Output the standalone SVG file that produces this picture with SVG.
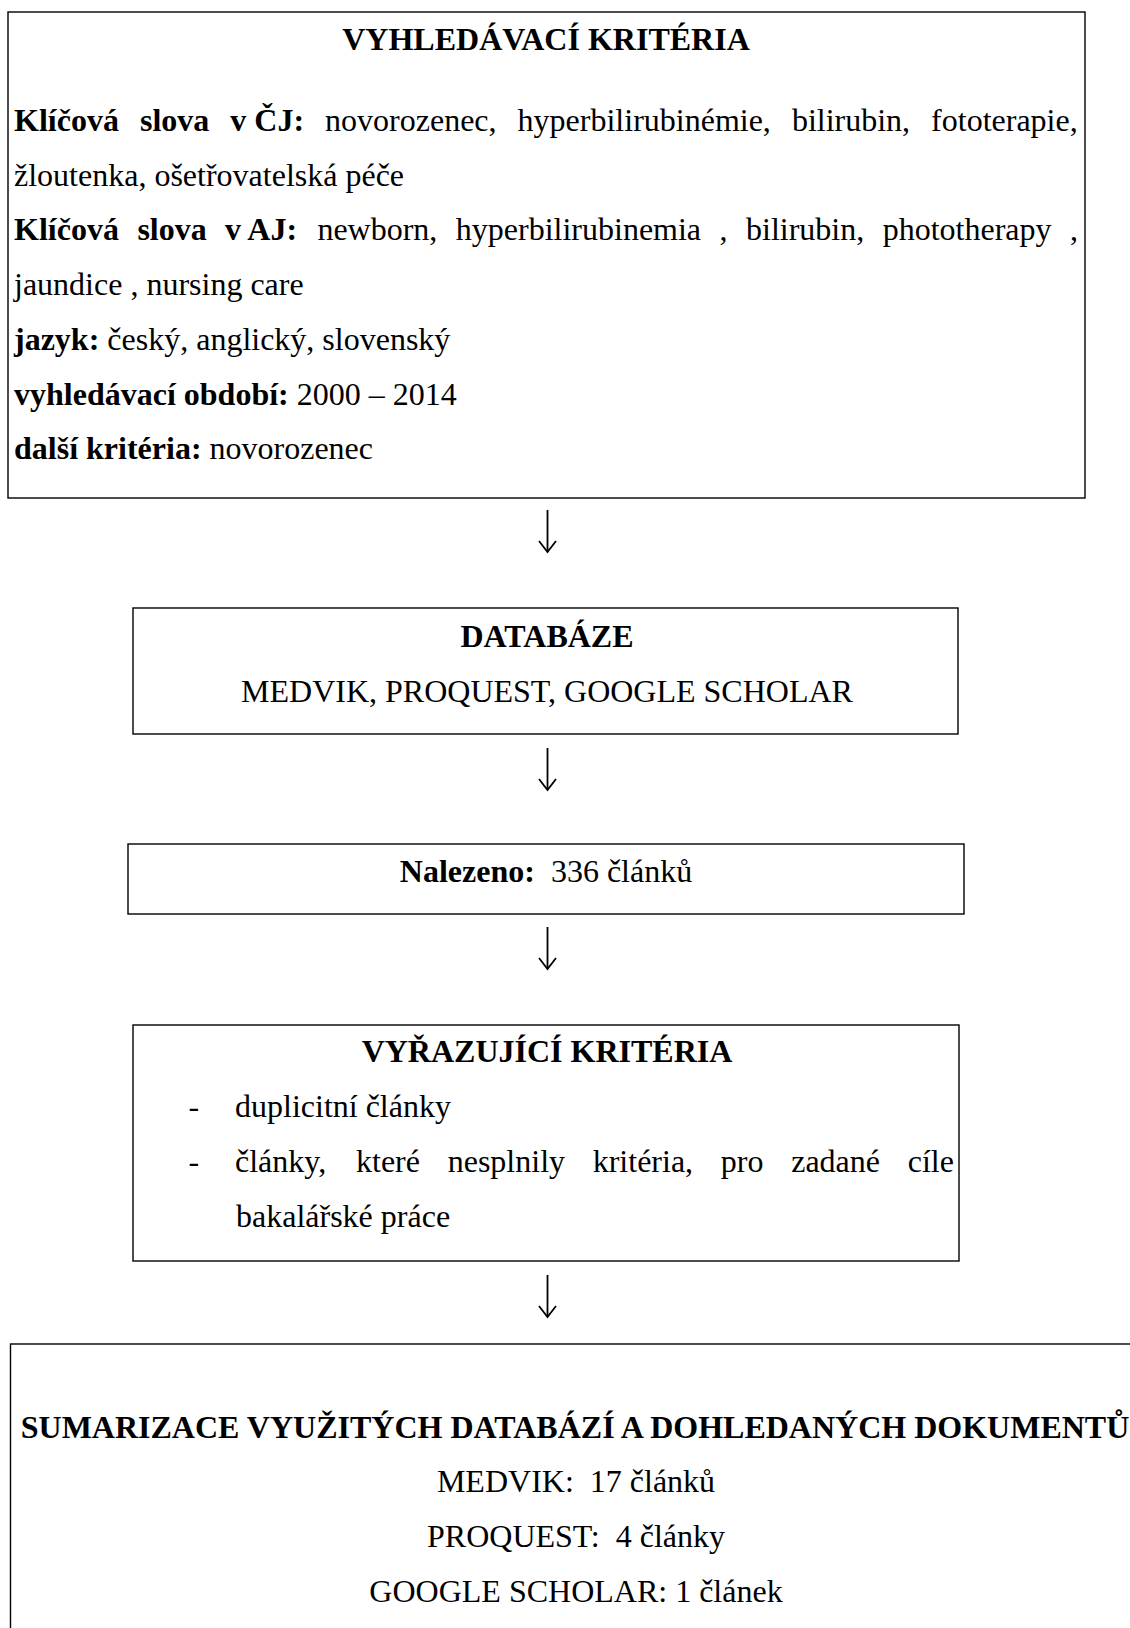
<svg xmlns="http://www.w3.org/2000/svg" xmlns:xlink="http://www.w3.org/1999/xlink" width="1130" height="1628" viewBox="0 0 1130 1628">
<style>
  text { font-family: "Liberation Serif", "Times New Roman", serif; font-size: 32px; fill: #000; }
  .b { font-weight: bold; }
  .c { text-anchor: middle; }
  .box { fill: none; stroke: #000; stroke-width: 1.4; }
  .arr { fill: none; stroke: #000; stroke-width: 1.8; }
</style>
<defs>
  <g id="arrowGlyph">
    <path class="arr" d="M0,0 V41"/>
    <path class="arr" d="M-8.5,31 L0,42 L8.5,31" stroke-width="2.2" stroke-linejoin="miter"/>
  </g>
</defs>
<rect width="1130" height="1628" fill="#fff"/>

<g id="connectors">
  <use xlink:href="#arrowGlyph" x="547.5" y="510"/>
  <use xlink:href="#arrowGlyph" x="547.5" y="748"/>
  <use xlink:href="#arrowGlyph" x="547.5" y="927"/>
  <use xlink:href="#arrowGlyph" x="547.5" y="1275"/>
</g>

<g id="node-vyhledavaci">
  <rect class="box" x="8" y="12" width="1077" height="486"/>
  <text class="b c" x="546" y="50">VYHLEDÁVACÍ KRITÉRIA</text>
  <text y="131"><tspan class="b" x="14">Klíčová</tspan><tspan class="b" x="140">slova</tspan><tspan class="b" x="230.3">v ČJ:</tspan><tspan x="325.1">novorozenec,</tspan><tspan x="517.6">hyperbilirubinémie,</tspan><tspan x="791.9">bilirubin,</tspan><tspan x="931.1">fototerapie,</tspan></text>
  <text x="14" y="185.7">žloutenka, ošetřovatelská péče</text>
  <text y="240.4"><tspan class="b" x="14">Klíčová</tspan><tspan class="b" x="137.4">slova</tspan><tspan class="b" x="225.1">v AJ:</tspan><tspan x="317.4">newborn,</tspan><tspan x="455.8">hyperbilirubinemia</tspan><tspan x="719.6">,</tspan><tspan x="746">bilirubin,</tspan><tspan x="882.7">phototherapy</tspan><tspan x="1070">,</tspan></text>
  <text x="14" y="295.1">jaundice , nursing care</text>
  <text x="14" y="349.8"><tspan class="b">jazyk:</tspan> český, anglický, slovenský</text>
  <text x="14" y="404.5"><tspan class="b">vyhledávací období:</tspan> 2000 – 2014</text>
  <text x="14" y="459.2"><tspan class="b">další kritéria:</tspan> novorozenec</text>
</g>

<g id="node-databaze">
  <rect class="box" x="133" y="608" width="825" height="126"/>
  <text class="b c" x="547" y="647">DATABÁZE</text>
  <text class="c" x="547" y="702">MEDVIK, PROQUEST, GOOGLE SCHOLAR</text>
</g>

<g id="node-nalezeno">
  <rect class="box" x="128" y="844" width="836" height="70"/>
  <text class="c" x="546" y="882"><tspan class="b">Nalezeno:</tspan>&#160; 336 článků</text>
</g>

<g id="node-vyrazujici">
  <rect class="box" x="133" y="1025" width="826" height="236"/>
  <text class="b c" x="547" y="1062">VYŘAZUJÍCÍ KRITÉRIA</text>
  <text x="188.5" y="1117">-</text>
  <text x="235" y="1117">duplicitní články</text>
  <text x="188.5" y="1172">-</text>
  <text y="1172"><tspan x="235">články,</tspan><tspan x="356">které</tspan><tspan x="447.7">nesplnily</tspan><tspan x="592.7">kritéria,</tspan><tspan x="720.8">pro</tspan><tspan x="791.2">zadané</tspan><tspan x="907.7">cíle</tspan></text>
  <text x="236" y="1227">bakalářské práce</text>
</g>

<g id="node-sumarizace">
  <rect class="box" x="10.5" y="1344" width="1135" height="300"/>
  <text class="b c" x="575" y="1438">SUMARIZACE VYUŽITÝCH DATABÁZÍ A DOHLEDANÝCH DOKUMENTŮ</text>
  <text class="c" x="576" y="1492">MEDVIK:&#160; 17 článků</text>
  <text class="c" x="576" y="1547">PROQUEST:&#160; 4 články</text>
  <text class="c" x="576" y="1602">GOOGLE SCHOLAR: 1 článek</text>
</g>
</svg>
